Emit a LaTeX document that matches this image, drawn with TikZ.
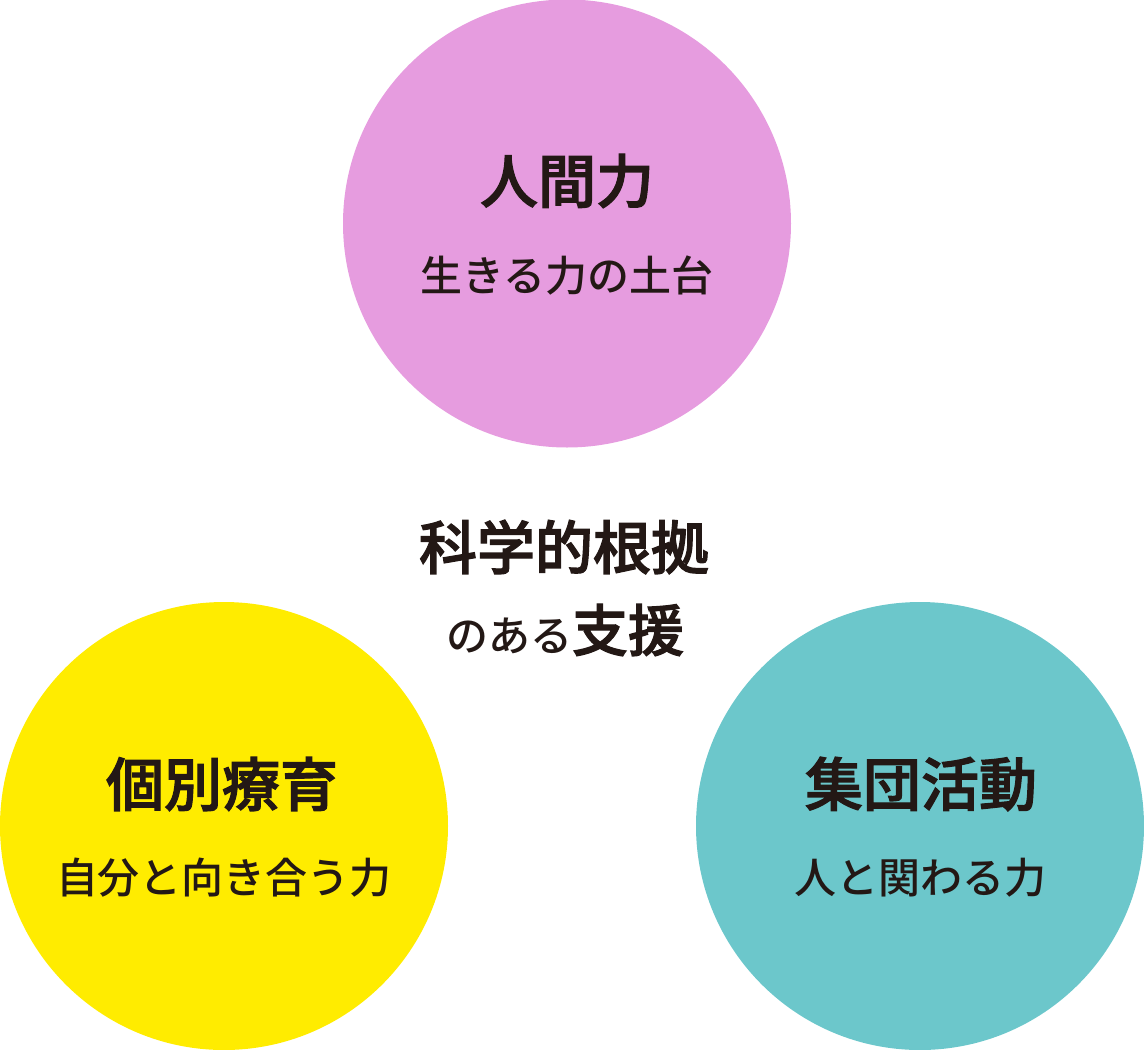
\documentclass[tikz,border=0pt]{standalone}
\usepackage{fontspec}
\newfontfamily\cjkb{Noto Sans CJK JP Medium}[FakeBold=2]
\newfontfamily\cjkm{Noto Sans CJK JP Medium}
\definecolor{cpink}{HTML}{E69CDF}
\definecolor{cyellow}{HTML}{FFEC00}
\definecolor{cteal}{HTML}{6CC7CB}
\definecolor{ink}{HTML}{231815}
\begin{document}
\begin{tikzpicture}[x=1pt,y=-1pt,
  disc/.style={circle,minimum size=448pt,inner sep=0pt,draw=none},
  title/.style={inner sep=0pt,text=ink,font=\cjkb\fontsize{58}{60}\selectfont},
  sub/.style={inner sep=0pt,text=ink,font=\cjkm\fontsize{42}{44}\selectfont}]
\useasboundingbox (0,0) rectangle (1144,1050);
\node[disc,fill=cpink] (top) at (567,223.5) {};
\node[disc,fill=cyellow] (left) at (224,826) {};
\node[disc,fill=cteal] (right) at (920,826) {};
\node[title] (t1) at (567,181) {人間力};
\node[sub] (s1) at (567,276) {生きる力の土台};
\node[title] (t2) at (222,784) {個別療育};
\node[sub] (s2) at (224,878) {自分と向き合う力};
\node[title] (t3) at (921,784) {集団活動};
\node[sub] (s3) at (920,878) {人と関わる力};
\node[title] (c1) at (564,547) {科学的根拠};
\node[inner sep=0pt,text=ink] (c2) at (565,630) {{\cjkm\fontsize{42}{44}\selectfont のある}{\cjkb\fontsize{56}{58}\selectfont 支援}};
\end{tikzpicture}
\end{document}
